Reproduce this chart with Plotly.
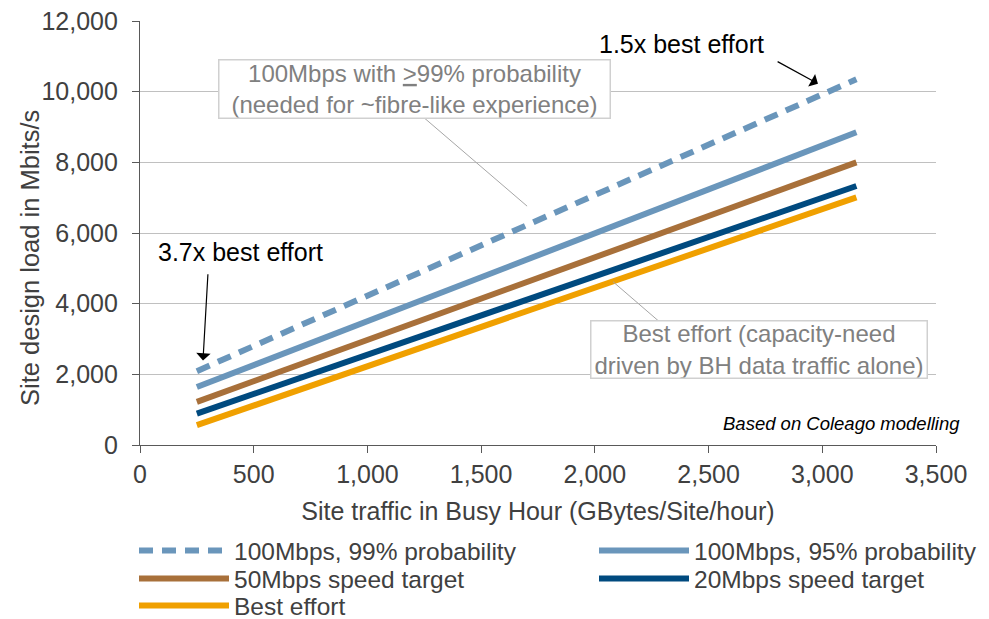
import plotly.graph_objects as go

x_traffic = [250, 3150]
s99 = [2090, 10350]
s95 = [1640, 8850]
s50 = [1220, 8000]
s20 = [890, 7330]
sbe = [560, 7010]

names = ["100Mbps, 99% probability", "100Mbps, 95% probability",
         "50Mbps speed target", "20Mbps speed target", "Best effort"]
colors = ["#6A96BB", "#6A96BB", "#A8703A", "#004A7F", "#F0A000"]
series = [s99, s95, s50, s20, sbe]
dashes = ["14px,9px", "solid", "solid", "solid", "solid"]
legend_ids = ["legend", "legend2", "legend3", "legend4", "legend5"]

x_ticks = [0, 500, 1000, 1500, 2000, 2500, 3000, 3500]
y_ticks = [0, 2000, 4000, 6000, 8000, 10000, 12000]

fig = go.Figure()
for n, c, s, d, lg in zip(names, colors, series, dashes, legend_ids):
    fig.add_trace(go.Scatter(x=x_traffic, y=s, mode="lines", name=n, legend=lg,
                             line=dict(color=c, width=6, dash=d)))

font = "Liberation Sans, Arial, sans-serif"
W, H, L, R, T, B = 989, 619, 132, 61, 13, 182
pw, ph = W - L - R, H - T - B


def px(xp):
    return (xp - L) / pw


def py(yp):
    return (H - B - yp) / ph


leg_common = dict(orientation="v", xanchor="left", yanchor="top",
                  font=dict(size=24.5, color="#404040"), tracegroupgap=0,
                  itemwidth=90, bgcolor="rgba(0,0,0,0)")

# legend placement (left edge, top) in figure pixels
leg_pos = [(126, 520), (586, 520), (126, 548), (586, 548), (126, 575)]
leg_layout = {}
for lg, (lx, ly) in zip(legend_ids, leg_pos):
    leg_layout[lg] = dict(x=px(lx), y=py(ly), **leg_common)

fig.update_layout(
    width=W, height=H,
    margin=dict(l=L, r=R, t=T, b=B, autoexpand=False),
    paper_bgcolor="white", plot_bgcolor="white",
    font=dict(family=font, size=25, color="#404040"),
    showlegend=True,
    xaxis=dict(range=[0, 3500], tickvals=x_ticks,
               ticktext=[f"{v:,}" for v in x_ticks],
               showgrid=False, zeroline=False, showline=True,
               linecolor="#595959", linewidth=1.3, ticks="outside",
               ticklen=7, tickcolor="#595959", tickfont=dict(size=25),
               ticklabeloverflow="allow",
               title=dict(text="Site traffic in Busy Hour (GBytes/Site/hour)",
                          font=dict(size=25), standoff=15)),
    yaxis=dict(range=[0, 12000], tickvals=y_ticks,
               ticktext=[f"{v:,}" for v in y_ticks],
               showgrid=True, gridcolor="#C0C0C0", gridwidth=1.2,
               zeroline=False, showline=True,
               linecolor="#595959", linewidth=1.3, ticks="outside",
               ticklen=7, tickcolor="#595959", tickfont=dict(size=25),
               ticklabelstandoff=9, ticklabeloverflow="allow"),
    **leg_layout,
)

# y axis title, placed like the reference (slightly below the plot centre)
fig.add_annotation(x=px(22), y=py(250), xref="paper", yref="paper", showarrow=False,
                   text="Site design load in Mbits/s", textangle=-90,
                   font=dict(size=25.5, color="#404040"),
                   xanchor="center", yanchor="middle")

# leader lines
fig.add_shape(type="line", x0=1253, y0=9239, x1=1702, y1=6761,
              line=dict(color="#A6A6A6", width=1))
fig.add_shape(type="line", x0=2080, y0=4620, x1=2278, y1=3521,
              line=dict(color="#A6A6A6", width=1))

fig.add_annotation(x=1209, y=10085, xref="x", yref="y", showarrow=False,
                   text="100Mbps with <u>></u>99% probability<br>(needed for ~fibre-like experience)",
                   font=dict(size=24, color="#808080"), bgcolor="white",
                   width=390, height=57,
                   bordercolor="#D0D0D0", borderwidth=1.5, borderpad=0, align="center")
fig.add_annotation(x=2722, y=2704, xref="x", yref="y", showarrow=False,
                   text="Best effort (capacity-need<br>driven by BH data traffic alone)",
                   font=dict(size=24, color="#808080"), bgcolor="white",
                   width=335, height=56,
                   bordercolor="#D0D0D0", borderwidth=1.5, borderpad=0, align="center")

# arrows
fig.add_annotation(x=2981, y=10225, ax=2797, ay=10873, xref="x", yref="y",
                   axref="x", ayref="y", text="", showarrow=True,
                   arrowhead=1, arrowsize=2, arrowwidth=1.2, arrowcolor="black")
fig.add_annotation(x=2381, y=11352, xref="x", yref="y", showarrow=False,
                   text="1.5x best effort", font=dict(size=25, color="black"))
fig.add_annotation(x=277, y=2394, ax=299, ay=4873, xref="x", yref="y",
                   axref="x", ayref="y", text="", showarrow=True,
                   arrowhead=1, arrowsize=2, arrowwidth=1.2, arrowcolor="black")
fig.add_annotation(x=444, y=5465, xref="x", yref="y", showarrow=False,
                   text="3.7x best effort", font=dict(size=25, color="black"))

fig.add_annotation(x=px(954), y=py(415), xref="paper", yref="paper", showarrow=False,
                   text="<i>Based on Coleago modelling</i>",
                   font=dict(size=18.5, color="black"), xanchor="right", yanchor="middle")

fig.write_html("out.html")
